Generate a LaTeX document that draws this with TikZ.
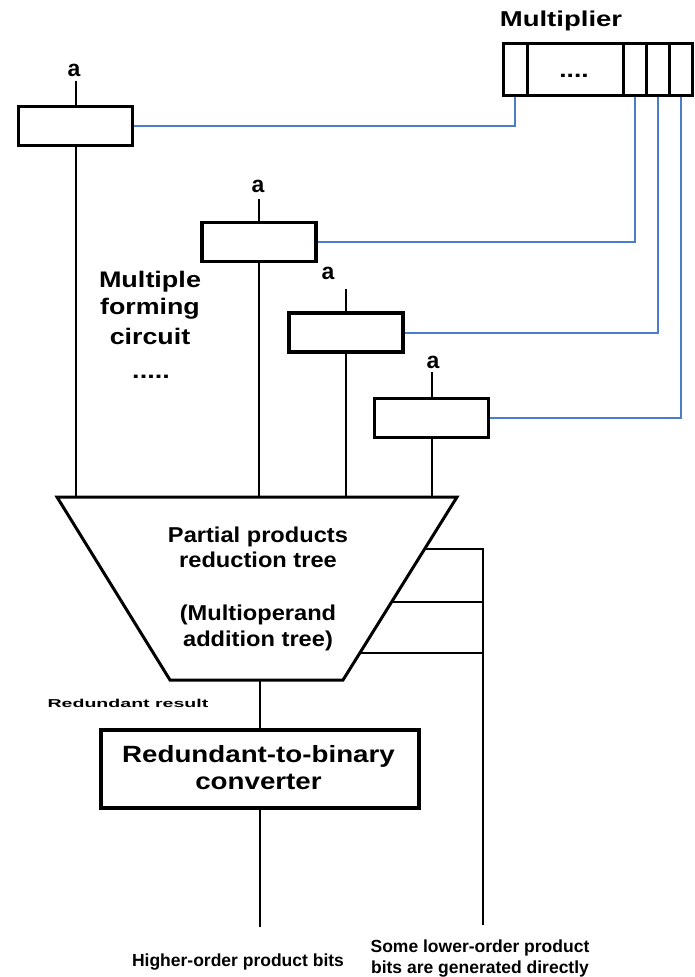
\documentclass[tikz,border=0pt]{standalone}
\usepackage{fontspec}
\setmainfont{Liberation Sans}
\usepackage{graphicx}
\usetikzlibrary{calc}
\definecolor{wireblue}{RGB}{74,126,200}
\newcommand{\fsz}[2]{\fontsize{#1}{#2}\selectfont\bfseries}
\newcommand{\sx}[2]{\scalebox{#1}[1]{#2}}
\begin{document}
\begin{tikzpicture}[x=1pt,y=-1pt,
  blk/.style={draw,line width=3.5pt,minimum height=39pt,minimum width=114pt,inner sep=0pt},
  cell/.style={draw,line width=3pt,minimum height=52pt,inner sep=0pt},
  wire/.style={line width=2pt},
  bwire/.style={draw=wireblue,line width=2pt},
  txt/.style={inner sep=0pt,anchor=base},
  lab/.style={txt,font=\fsz{23}{26}}]
\useasboundingbox (0,0) rectangle (694,977);

% multiplier register
\node[txt,font=\fsz{21.5}{24}] (mult) at (561,27) {\sx{1.28}{Multiplier}};
\node[cell,minimum width=24pt] (c0) at (515,69) {};
\node[cell,minimum width=96pt] (c1) at (575,69) {};
\node[txt,font=\fsz{22}{24}] (dots) at (574,77) {\sx{1.2}{....}};
\node[cell,minimum width=23pt] (c2) at (634.5,69) {};
\node[cell,minimum width=23pt] (c3) at (657.5,69) {};
\node[cell,minimum width=23pt] (c4) at (680.5,69) {};

% multiple forming boxes
\node[blk] (m1) at (75.5,126) {};
\node[blk] (m2) at (259,242) {};
\node[blk] (m3) at (346,332.5) {};
\node[blk] (m4) at (431.5,418) {};

% a labels
\node[lab] (a1) at (74,76) {a};
\node[lab] (a2) at (258,192) {a};
\node[lab] (a3) at (328,279) {a};
\node[lab] (a4) at (433,368) {a};
\coordinate (t1) at (0,81);
\coordinate (t2) at (0,199);
\coordinate (t3) at (0,289);
\coordinate (t4) at (0,372);
\draw[wire] (m1.north) -- (m1.north |- t1);
\draw[wire] (m2.north) -- (m2.north |- t2);
\draw[wire] (m3.north) -- (m3.north |- t3);
\draw[wire] (m4.north) -- (m4.north |- t4);

% blue wires
\draw[bwire] (m1.east) -| (c0.south);
\draw[bwire] (m2.east) -| (c2.south);
\draw[bwire] (m3.east) -| (c3.south);
\draw[bwire] (m4.east) -| (c4.south);

% multiple forming circuit text
\node[txt,font=\fsz{22.5}{24}] (mf1) at (150,287) {\sx{1.2}{Multiple}};
\node[txt,font=\fsz{22.5}{24}] (mf2) at (150,314) {\sx{1.19}{forming}};
\node[txt,font=\fsz{22.5}{24}] (mf3) at (150,344) {\sx{1.19}{circuit}};
\node[txt,font=\fsz{22.5}{24}] (mf4) at (151,378) {\sx{1.2}{.....}};

% reduction tree
\coordinate (TL) at (57,497);
\coordinate (TR) at (457,497);
\coordinate (BR) at (343,680);
\coordinate (BL) at (170,680);
\draw[line width=3pt,line join=miter] (TL) -- (TR) -- (BR) -- (BL) -- cycle;
\node[txt,font=\fsz{21.5}{24}] (p1) at (258,542) {\sx{1.1}{Partial products}};
\node[txt,font=\fsz{21.5}{24}] (p2) at (258,567) {\sx{1.1}{reduction tree}};
\node[txt,font=\fsz{21.5}{24}] (p3) at (258,620) {\sx{1.1}{(Multioperand}};
\node[txt,font=\fsz{21.5}{24}] (p4) at (258,646) {\sx{1.1}{addition tree)}};

\draw[wire] (m1.south) -- (m1.south |- TL);
\draw[wire] (m2.south) -- (m2.south |- TL);
\draw[wire] (m3.south) -- (m3.south |- TL);
\draw[wire] (m4.south) -- (m4.south |- TL);

% lower-order bits
\coordinate (s1) at ($(TR)!0.284!(BR)$);
\coordinate (s2) at ($(TR)!0.574!(BR)$);
\coordinate (s3) at ($(TR)!0.852!(BR)$);
\coordinate (rb) at (483,925);
\draw[wire] (s1) -- (s1 -| rb) -- (rb);
\draw[wire] (s2) -- (s2 -| rb);
\draw[wire] (s3) -- (s3 -| rb);

% converter
\node[txt,font=\fsz{11.5}{14}] (rr) at (128,707) {\sx{1.7}{Redundant result}};
\node[blk,minimum width=318pt,minimum height=78pt] (conv) at (260,769) {};
\node[txt,font=\fsz{23.5}{26}] (cv1) at (258.5,762) {\sx{1.18}{Redundant-to-binary}};
\node[txt,font=\fsz{23.5}{26}] (cv2) at (258.5,789) {\sx{1.18}{converter}};
\coordinate (bt) at (260,680);
\coordinate (hb) at (260,927);
\draw[wire] (bt) -- (conv.north);
\draw[wire] (conv.south) -- (hb);

% bottom labels
\node[txt,font=\fsz{17.5}{21}] (hi) at (238,966) {Higher-order product bits};
\node[txt,font=\fsz{17.5}{21}] (lo1) at (480,952) {Some lower-order product};
\node[txt,font=\fsz{17.5}{21}] (lo2) at (480,973) {bits are generated directly};
\end{tikzpicture}
\end{document}
